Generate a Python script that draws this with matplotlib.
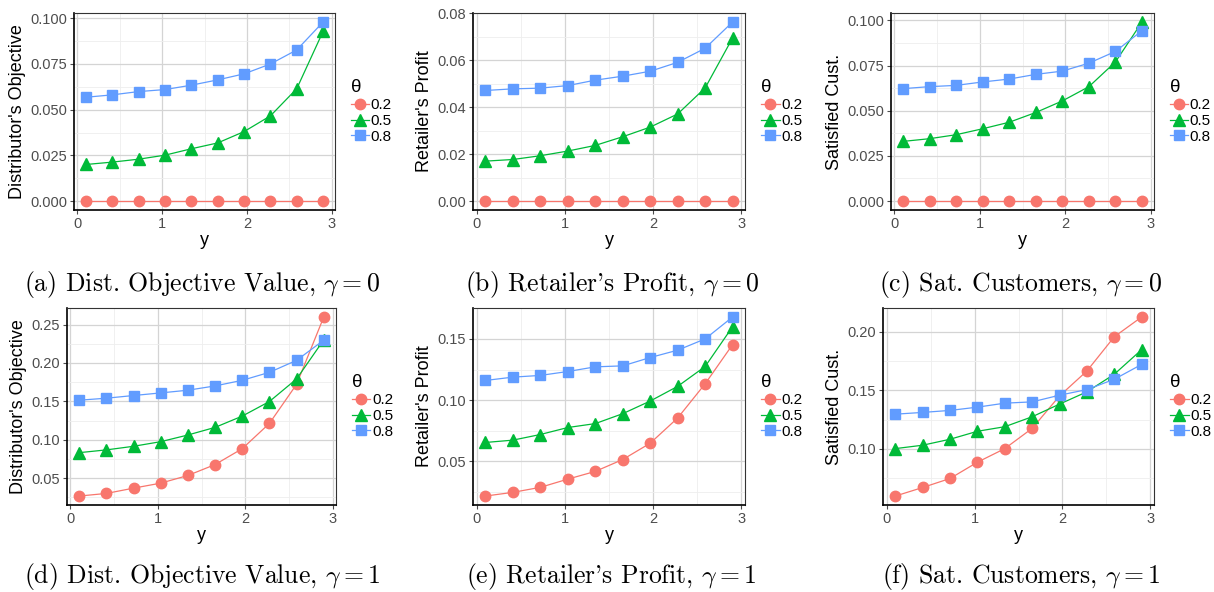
import numpy as np
import matplotlib
matplotlib.use('Agg')
import matplotlib.pyplot as plt
from matplotlib import rcParams
from matplotlib.lines import Line2D
from matplotlib.ticker import FixedLocator, FormatStrFormatter

# ggplot-ish look
rcParams['font.family'] = ['Liberation Sans', 'DejaVu Sans']
rcParams['mathtext.fontset'] = 'cm'
rcParams['xtick.direction'] = 'out'
rcParams['ytick.direction'] = 'out'
rcParams['xtick.labelsize'] = 10.5
rcParams['ytick.labelsize'] = 10.5
rcParams['axes.labelsize'] = 13

# data
y_vals = np.linspace(0.1, 2.9, 10)
thetas = ['0.2', '0.5', '0.8']

# gamma = 0
dist_g0_02 = [0, 0, 0, 0, 0, 0, 0, 0, 0, 0]
dist_g0_05 = [0.0200, 0.0213, 0.0229, 0.0251, 0.0286, 0.0318, 0.0380, 0.0466, 0.0615, 0.0929]
dist_g0_08 = [0.0568, 0.0581, 0.0599, 0.0610, 0.0634, 0.0663, 0.0696, 0.0750, 0.0827, 0.0980]

ret_g0_02 = [0, 0, 0, 0, 0, 0, 0, 0, 0, 0]
ret_g0_05 = [0.0170, 0.0177, 0.0193, 0.0213, 0.0237, 0.0274, 0.0315, 0.0371, 0.0482, 0.0695]
ret_g0_08 = [0.0471, 0.0478, 0.0481, 0.0492, 0.0515, 0.0532, 0.0553, 0.0591, 0.0651, 0.0763]

sat_g0_02 = [0, 0, 0, 0, 0, 0, 0, 0, 0, 0]
sat_g0_05 = [0.0330, 0.0345, 0.0367, 0.0400, 0.0436, 0.0490, 0.0554, 0.0633, 0.0770, 0.0991]
sat_g0_08 = [0.0622, 0.0633, 0.0640, 0.0659, 0.0675, 0.0701, 0.0719, 0.0763, 0.0828, 0.0943]

# gamma = 1
dist_g1_02 = [0.0267, 0.0301, 0.0370, 0.0435, 0.0535, 0.0677, 0.0884, 0.1213, 0.1722, 0.2599]
dist_g1_05 = [0.0832, 0.0868, 0.0915, 0.0975, 0.1062, 0.1161, 0.1308, 0.1498, 0.1792, 0.2301]
dist_g1_08 = [0.1515, 0.1541, 0.1576, 0.1610, 0.1645, 0.1701, 0.1774, 0.1878, 0.2034, 0.2297]

ret_g1_02 = [0.0218, 0.0248, 0.0289, 0.0356, 0.0419, 0.0516, 0.0649, 0.0855, 0.1134, 0.1454]
ret_g1_05 = [0.0655, 0.0674, 0.0720, 0.0777, 0.0809, 0.0890, 0.0993, 0.1113, 0.1275, 0.1600]
ret_g1_08 = [0.1161, 0.1188, 0.1202, 0.1234, 0.1272, 0.1280, 0.1348, 0.1408, 0.1500, 0.1679]

sat_g1_02 = [0.0598, 0.0671, 0.0748, 0.0887, 0.1003, 0.1176, 0.1453, 0.1666, 0.1958, 0.2127]
sat_g1_05 = [0.1003, 0.1032, 0.1083, 0.1151, 0.1190, 0.1275, 0.1383, 0.1488, 0.1638, 0.1848]
sat_g1_08 = [0.1297, 0.1312, 0.1329, 0.1357, 0.1391, 0.1402, 0.1459, 0.1507, 0.1595, 0.1722]

ylabels = ["Distributor's Objective", "Retailer's Profit", "Satisfied Cust."]
captions = [r"(a) Dist. Objective Value, $\gamma = 0$",
            r"(b) Retailer's Profit, $\gamma = 0$",
            r"(c) Sat. Customers, $\gamma = 0$",
            r"(d) Dist. Objective Value, $\gamma = 1$",
            r"(e) Retailer's Profit, $\gamma = 1$",
            r"(f) Sat. Customers, $\gamma = 1$"]
yticks = [[0, 0.025, 0.05, 0.075, 0.1],
          [0, 0.02, 0.04, 0.06, 0.08],
          [0, 0.025, 0.05, 0.075, 0.1],
          [0.05, 0.10, 0.15, 0.20, 0.25],
          [0.05, 0.10, 0.15],
          [0.10, 0.15, 0.20]]
yfmt = ['%.3f', '%.2f', '%.3f', '%.2f', '%.2f', '%.2f']

series = [(dist_g0_02, dist_g0_05, dist_g0_08),
          (ret_g0_02, ret_g0_05, ret_g0_08),
          (sat_g0_02, sat_g0_05, sat_g0_08),
          (dist_g1_02, dist_g1_05, dist_g1_08),
          (ret_g1_02, ret_g1_05, ret_g1_08),
          (sat_g1_02, sat_g1_05, sat_g1_08)]

colors = ['#F8766D', '#00BA38', '#619CFF']
markers = ['o', '^', 's']
msizes = [7.5, 8.5, 7.5]

# pixel boxes (left, right, top, bottom)
W, H = 1214, 592
boxes = [(74, 335, 13, 210), (473, 745, 13, 210), (891, 1154, 13, 210),
         (67, 336, 308, 505), (473, 745, 308, 505), (883, 1154, 308, 505)]
cap_pos = [(202, 284), (612, 284), (1021, 284),
           (202, 577), (611, 577), (1021, 577)]

fig = plt.figure(figsize=(W / 100, H / 100), dpi=100)

for i in range(6):
    l, r, t, b = boxes[i]
    ax = fig.add_axes([l / W, 1 - b / H, (r - l) / W, (b - t) / H])
    for k in range(3):
        ax.plot(y_vals, series[i][k], color=colors[k], lw=0.9,
                marker=markers[k], ms=msizes[k], mec=colors[k], zorder=3 + k)

    ax.set_xticks([0, 1, 2, 3])
    ax.xaxis.set_minor_locator(FixedLocator([0.5, 1.5, 2.5]))
    yt = yticks[i]
    ax.set_yticks(yt)
    step = yt[1] - yt[0]
    ax.yaxis.set_minor_locator(FixedLocator(
        [yt[0] - step / 2] + [v + step / 2 for v in yt]))
    ax.yaxis.set_major_formatter(FormatStrFormatter(yfmt[i]))
    ax.set_xlim(-0.04, 3.04)
    lo = min(min(s) for s in series[i])
    hi = max(max(s) for s in series[i])
    pad = (hi - lo) * 0.05
    ax.set_ylim(lo - pad, hi + pad)

    ax.grid(which='major', color='#D4D4D4', lw=0.9)
    ax.grid(which='minor', color='#EEEEEE', lw=0.6)
    ax.set_axisbelow(True)
    ax.tick_params(which='major', colors='#4D4D4D', length=3, width=0.8,
                   labelcolor='#4D4D4D', pad=2)
    ax.tick_params(which='minor', length=0)
    for s in ['left', 'bottom']:
        ax.spines[s].set_color('black')
        ax.spines[s].set_linewidth(1.2)
    for s in ['top', 'right']:
        ax.spines[s].set_color('#333333')
        ax.spines[s].set_linewidth(0.8)

    ax.set_xlabel('y', labelpad=1)
    ax.set_ylabel(ylabels[i % 3], labelpad=3)

    handles = [Line2D([], [], color=colors[k], marker=markers[k],
                      ms=msizes[k], lw=0.9) for k in range(3)]
    leg = ax.legend(handles, thetas, title='\u03b8', loc='center left',
                    bbox_to_anchor=(1.06, 0.5), frameon=False,
                    borderaxespad=0, borderpad=0, handlelength=1.2,
                    handletextpad=0.1, labelspacing=0.12, fontsize=11,
                    title_fontsize=13.5, alignment='left')

    fig.text(cap_pos[i][0] / W, 1 - cap_pos[i][1] / H, captions[i],
             ha='center', va='center', fontsize=18.5, family='cmr10')

fig.savefig('out.png', dpi=100)
